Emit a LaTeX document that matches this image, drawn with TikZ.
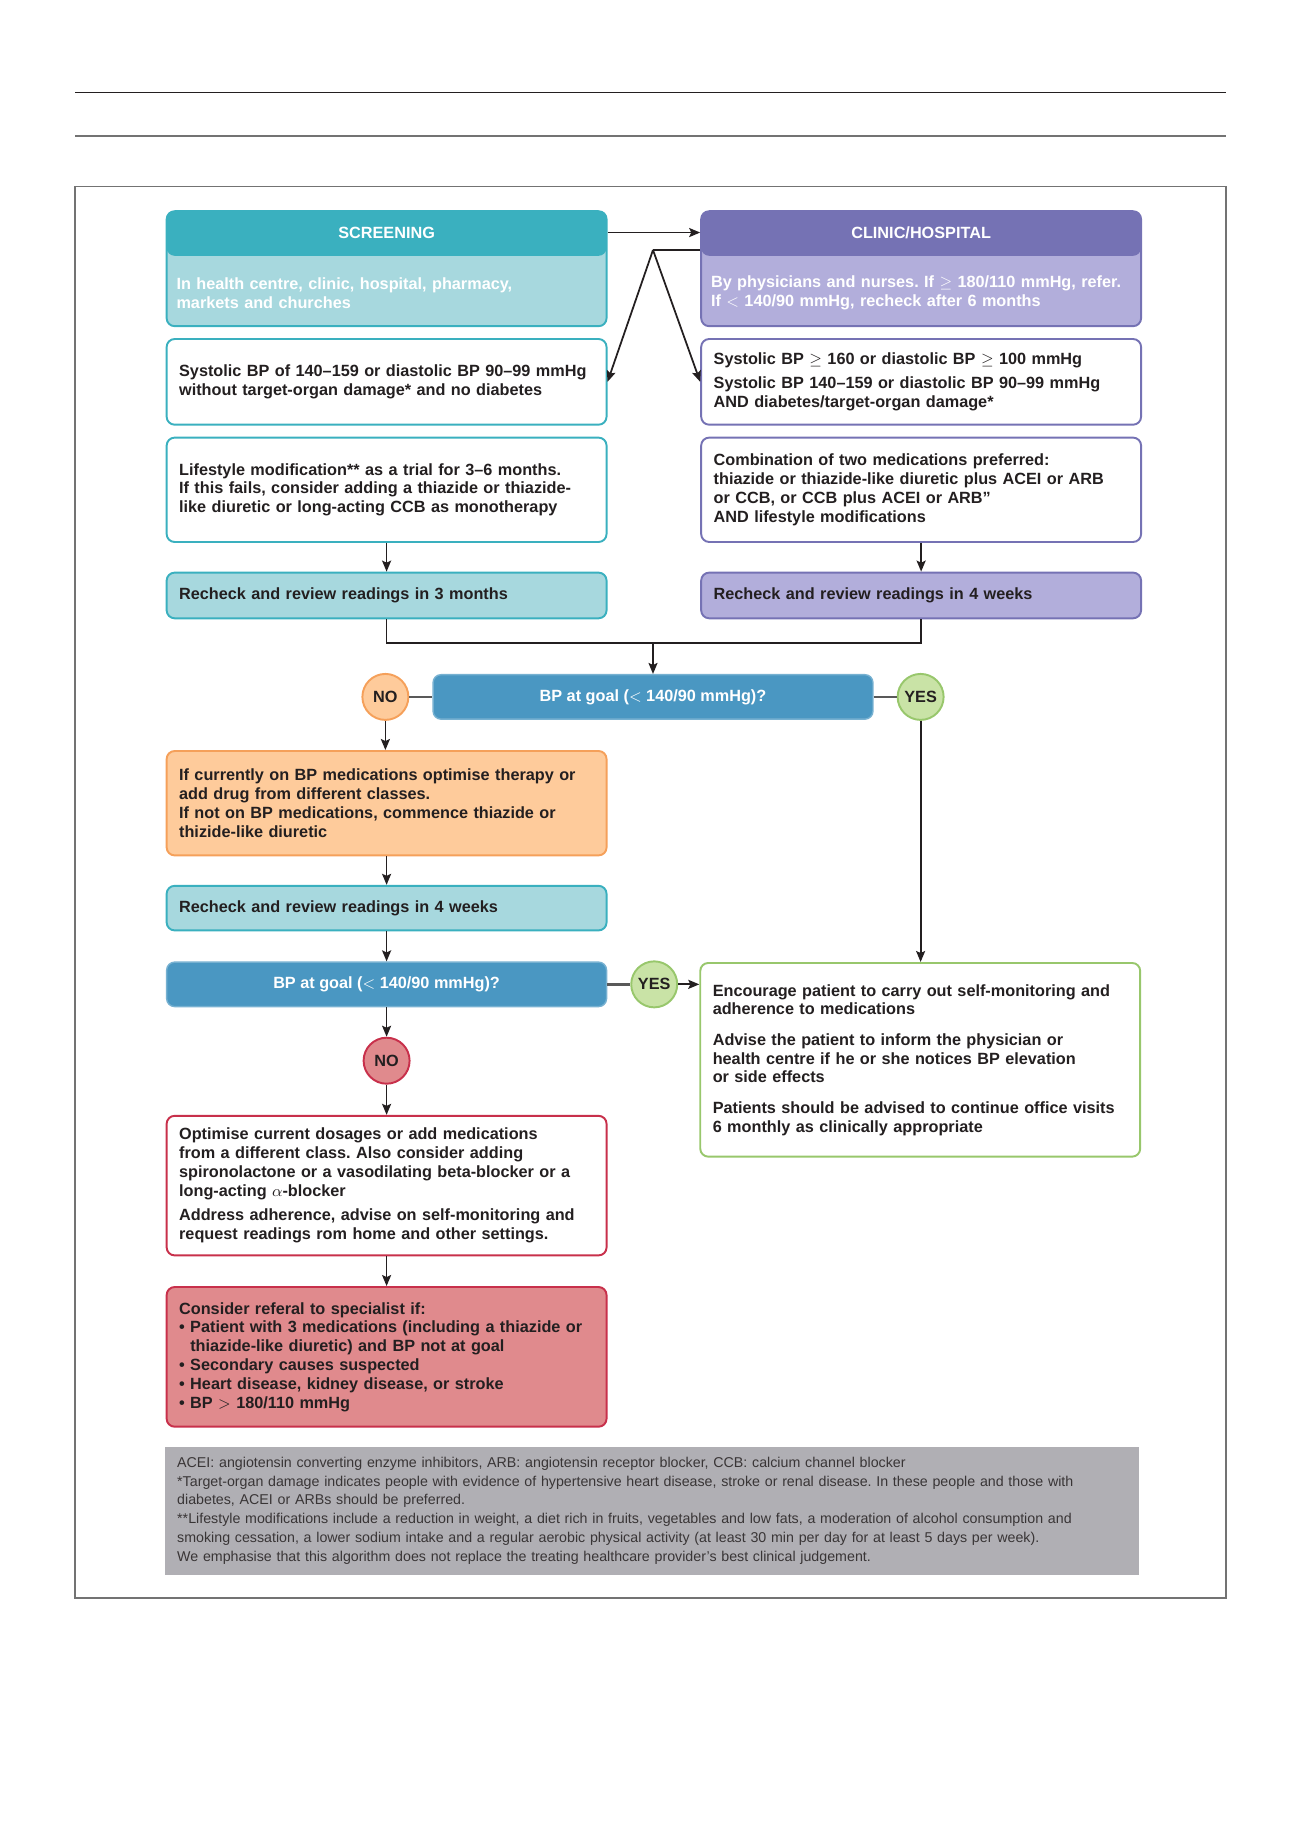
\documentclass[tikz,border=0pt]{standalone}
\usepackage{fontspec}
\setmainfont{Liberation Sans}
\frenchspacing
\usetikzlibrary{arrows.meta, positioning}
\definecolor{Ink}{HTML}{231F20}
\definecolor{Teal}{HTML}{3AB0BF}
\definecolor{TealLt}{HTML}{A7D8DE}
\definecolor{Violet}{HTML}{7572B4}
\definecolor{VioletLt}{HTML}{B2AEDB}
\definecolor{GoalBlue}{HTML}{4A97C2}
\definecolor{Amber}{HTML}{F5A05A}
\definecolor{AmberLt}{HTML}{FECB9B}
\definecolor{Leaf}{HTML}{98C76C}
\definecolor{LeafLt}{HTML}{C9E3A6}
\definecolor{Crimson}{HTML}{C8304B}
\definecolor{CrimsonLt}{HTML}{E08A8D}
\definecolor{NoteGray}{HTML}{B0AFB4}

\begin{document}
\begin{tikzpicture}[
      x=0.02cm, y=-0.02cm,
      box/.style={draw=#1, fill=white, line width=1.1pt, rounded corners=0.16cm,
                  text width=8.3cm, inner xsep=0.25cm, align=left, text=Ink,
                  font=\fontsize{9.25}{10.7}\selectfont\bfseries},
      topbox/.style n args={2}{draw=#1, fill=#2, line width=1.1pt, rounded corners=0.16cm,
                  minimum width=8.8cm, minimum height=2.3cm, inner sep=0pt,
                  path picture={\fill[#1] (path picture bounding box.north west)
                     rectangle ([yshift=-0.892cm]path picture bounding box.north east);}},
      hdtxt/.style={text=white, font=\fontsize{9.25}{10.7}\selectfont\bfseries},
      subtxt/.style={anchor=west, text=white, text width=8.5cm, inner xsep=0pt, align=left,
                  font=\fontsize{9.25}{10.7}\selectfont\bfseries},
      goal/.style={draw=GoalBlue!75!white, fill=GoalBlue, line width=0.8pt, rounded corners=0.16cm,
                  minimum width=8.8cm, minimum height=0.89cm, text=white, align=center,
                  font=\fontsize{9.25}{10.7}\selectfont\bfseries},
      answer/.style={circle, draw=#1, line width=1.1pt, minimum size=0.92cm, inner sep=0pt,
                  text=Ink, font=\fontsize{9.25}{10.7}\selectfont\bfseries},
      notebox/.style={fill=NoteGray, minimum width=19.478cm, minimum height=2.558cm,
                  text width=19.01cm, inner xsep=0.234cm, align=left, text=Ink!90,
                  font=\fontsize{8.1}{10.66}\selectfont},
      ar/.style={-{Stealth[length=2.2mm, width=1.8mm, inset=0.4mm]}, Ink, line width=1pt},
      ln/.style={Ink, line width=1pt},
      tie/.style={black!65, line width=1.5pt}]

    \useasboundingbox (0,0) rectangle (1300,1839);

    % page rules and frame
    \draw[Ink, line width=0.7pt] (75,92.7) -- (1226,92.7);
    \draw[black!55, line width=1.2pt] (75,136) -- (1226,136);
    \draw[black!55, line width=1pt] (75,186.6) rectangle (1226,1598);

    % entry boxes
    \node[topbox={Teal}{TealLt}] (scr) at (386.6,268.7) {};
    \node[hdtxt] (scrH) at ([yshift=-0.446cm]scr.north) {SCREENING};
    \node[subtxt] (scrB) at ([xshift=0.21cm, yshift=-0.49cm]scr.west) {In health centre, clinic, hospital, pharmacy,\\markets and churches};
    \node[topbox={Violet}{VioletLt}, right=1.854cm of scr] (clin) {};
    \node[hdtxt] (clinH) at ([yshift=-0.446cm]clin.north) {CLINIC/HOSPITAL};
    \node[subtxt] (clinB) at ([xshift=0.21cm, yshift=-0.49cm]clin.west) {By physicians and nurses. If $\geq$ 180/110 mmHg, refer.\\If $<$ 140/90 mmHg, recheck after 6 months};

    % two branches
    \node[box=Teal, minimum height=1.714cm] (sysL) at (386.6,381.85)
      {Systolic BP of 140–159 or diastolic BP 90–99 mmHg\\without target-organ damage* and no diabetes};
    \node[box=Violet, minimum height=1.714cm, right=1.854cm of sysL] (sysR)
      {Systolic BP $\geq$ 160 or diastolic BP $\geq$ 100 mmHg\\[3.3pt]Systolic BP 140–159 or diastolic BP 90–99 mmHg\\AND diabetes/target-organ damage*};
    \node[box=Teal, minimum height=2.088cm] (life) at (386.6,489.8)
      {Lifestyle modification** as a trial for 3–6 months.\\If this fails, consider adding a thiazide or thiazide-\\like diuretic or long-acting CCB as monotherapy};
    \node[box=Violet, minimum height=2.088cm, right=1.854cm of life] (combo)
      {Combination of two medications preferred:\\thiazide or thiazide-like diuretic plus ACEI or ARB\\or CCB, or CCB plus ACEI or ARB”\\AND lifestyle modifications};
    \node[box=Teal, fill=TealLt, minimum height=0.914cm] (rck3) at (386.6,595.45)
      {Recheck and review readings in 3 months};
    \node[box=Violet, fill=VioletLt, minimum height=0.914cm, right=1.854cm of rck3] (rck4)
      {Recheck and review readings in 4 weeks};

    % first check
    \node[goal] (goal1) at (653,696.9) {BP at goal ($<$ 140/90 mmHg)?};
    \node[answer=Amber, fill=AmberLt, left=0.46cm of goal1] (no1) {NO};
    \node[answer=Leaf, fill=LeafLt, right=0.46cm of goal1] (yes1) {YES};

    \node[box=Amber, fill=AmberLt, minimum height=2.088cm] (opt) at (386.6,803.2)
      {If currently on BP medications optimise therapy or\\add drug from different classes.\\If not on BP medications, commence thiazide or\\thizide-like diuretic};
    \node[box=Teal, fill=TealLt, minimum height=0.892cm] (rck4b) at (386.6,908.1)
      {Recheck and review readings in 4 weeks};

    % second check
    \node[goal] (goal2) at (386.6,984.35) {BP at goal ($<$ 140/90 mmHg)?};
    \node[answer=Leaf, fill=LeafLt, right=0.46cm of goal2] (yes2) {YES};
    \node[answer=Crimson, fill=CrimsonLt] (no2) at (386.6,1060.7) {NO};

    \node[box=Leaf, minimum height=3.874cm, anchor=north west] (adv) at (699.3,962)
      {Encourage patient to carry out self-monitoring and\\adherence to medications\\[6.6pt]Advise the patient to inform the physician or\\health centre if he or she notices BP elevation\\or side effects\\[6.6pt]Patients should be advised to continue office visits\\6 monthly as clinically appropriate};

    \node[box=Crimson, minimum height=2.792cm] (optd) at (386.6,1185.6)
      {Optimise current dosages or add medications\\from a different class. Also consider adding\\spironolactone or a vasodilating beta-blocker or a\\long-acting $\alpha$-blocker\\[3.3pt]Address adherence, advise on self-monitoring and\\request readings rom home and other settings.};
    \node[box=Crimson, fill=CrimsonLt, minimum height=2.794cm] (ref) at (386.6,1356.85)
      {Consider referal to specialist if:\\\textbullet\ Patient with 3 medications (including a thiazide or\\\phantom{\textbullet\ }thiazide-like diuretic) and BP not at goal\\\textbullet\ Secondary causes suspected\\\textbullet\ Heart disease, kidney disease, or stroke\\\textbullet\ BP $>$ 180/110 mmHg};

    \node[notebox] (notes) at (652.35,1510.65)
      {ACEI: angiotensin converting enzyme inhibitors, ARB: angiotensin receptor blocker, CCB: calcium channel blocker\\{*}Target-organ damage indicates people with evidence of hypertensive heart disease, stroke or renal disease. In these people and those with\\diabetes, ACEI or ARBs should be preferred.\\{**}Lifestyle modifications include a reduction in weight, a diet rich in fruits, vegetables and low fats, a moderation of alcohol consumption and\\smoking cessation, a lower sodium intake and a regular aerobic physical activity (at least 30 min per day for at least 5 days per week).\\We emphasise that this algorithm does not replace the treating healthcare provider’s best clinical judgement.};

    % connectors
    \coordinate (fork) at (653,250);
    \coordinate (join) at (653,643);
    \draw[ar] (scr.east |- scrH) -- (clin.west |- scrH);
    \draw[ln] (clin.west |- fork) -- (fork);
    \draw[ar] (fork) -- (sysL.east);
    \draw[ar] (fork) -- (sysR.west);
    \draw[ar] (life) -- (rck3);
    \draw[ar] (combo) -- (rck4);
    \draw[ln] (rck3.south) |- (join) -| (rck4.south);
    \draw[ar] (join) -- (goal1);
    \draw[tie] (no1) -- (goal1);
    \draw[tie] (goal1) -- (yes1);
    \draw[ar] (no1.south) -- (no1.south |- opt.north);
    \draw[ar] (yes1.south) -- (yes1.south |- adv.north);
    \draw[ar] (opt) -- (rck4b);
    \draw[ar] (rck4b) -- (goal2);
    \draw[tie] (goal2) -- (yes2);
    \draw[ar] (yes2) -- (yes2 -| adv.west);
    \draw[ar] (goal2) -- (no2);
    \draw[ar] (no2) -- (optd);
    \draw[ar] (optd) -- (ref);
  \end{tikzpicture}
\end{document}
